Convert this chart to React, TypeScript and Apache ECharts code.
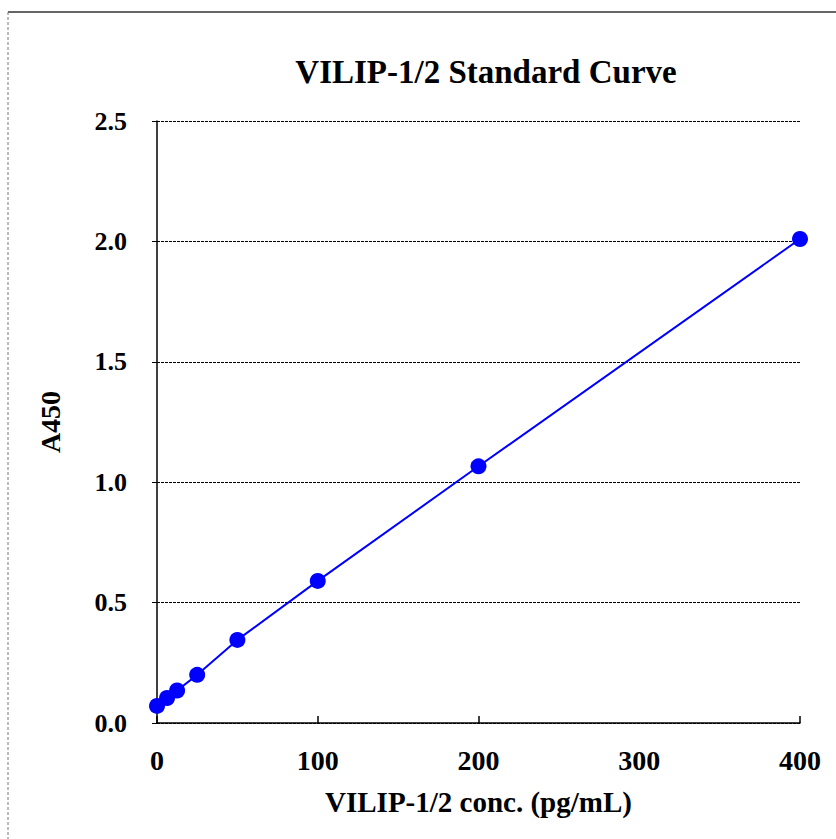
import React, { useEffect, useRef } from "react";
import * as echarts from "echarts";

const concentrations = [0, 6.25, 12.5, 25, 50, 100, 200, 400];
const absorbance = [0.071, 0.104, 0.135, 0.2, 0.345, 0.59, 1.066, 2.01];
const xTicks = [0, 100, 200, 400];
const xLabels = [0, 100, 200, 300, 400];

const FONT = "'Liberation Serif', 'Times New Roman', serif";

export default function App() {
  const ref = useRef<HTMLDivElement>(null);
  useEffect(() => {
    if (!ref.current) return;
    const chart = echarts.init(ref.current, null, { renderer: "svg" });
    chart.setOption({
      animation: false,
      backgroundColor: "#ffffff",
      title: {
        text: "VILIP-1/2 Standard Curve",
        left: 481,
        top: 50,
        textAlign: "center",
        textStyle: { fontFamily: FONT, fontWeight: "bold", fontSize: 33, color: "#000" },
      },
      grid: { left: 157, right: 36, top: 121, bottom: 116 },
      xAxis: {
        type: "value",
        min: 0,
        max: 400,
        interval: 100,
        name: "VILIP-1/2 conc. (pg/mL)",
        nameLocation: "middle",
        nameGap: 64,
        nameTextStyle: { fontFamily: FONT, fontWeight: "bold", fontSize: 29, color: "#000" },
        axisLine: { show: true, lineStyle: { color: "#000", width: 1.5 } },
        axisTick: { show: true, inside: true, length: 7, customValues: xTicks, lineStyle: { color: "#000", width: 1.5 } },
        axisLabel: {
          customValues: xLabels,
          margin: 23,
          fontFamily: FONT,
          fontWeight: "bold",
          fontSize: 28,
          color: "#000",
        },
        splitLine: { show: false },
      },
      yAxis: {
        type: "value",
        min: 0,
        max: 2.5,
        interval: 0.5,
        name: "A450",
        nameLocation: "middle",
        nameGap: 93,
        nameRotate: 90,
        nameTextStyle: { fontFamily: FONT, fontWeight: "bold", fontSize: 28, color: "#000" },
        axisLine: { show: true, lineStyle: { color: "#000", width: 1.5 } },
        axisTick: { show: true, inside: false, length: 5, lineStyle: { color: "#000", width: 1 } },
        axisLabel: {
          margin: 30,
          fontFamily: FONT,
          fontWeight: "bold",
          fontSize: 26,
          color: "#000",
          formatter: (v: number) => v.toFixed(1),
        },
        splitLine: { show: true, lineStyle: { color: "#000", width: 1, type: [3, 1] } },
      },
      series: [
        {
          type: "line",
          data: concentrations.map((c, i) => [c, absorbance[i]]),
          symbol: "circle",
          symbolSize: 16,
          showSymbol: true,
          itemStyle: { color: "#0000ff" },
          lineStyle: { color: "#0000ff", width: 2 },
          z: 5,
          clip: false,
        },
      ],
      graphic: [
        { type: "line", shape: { x1: 8, y1: 12, x2: 836, y2: 12 }, style: { stroke: "#333", lineWidth: 1.5 }, silent: true },
        { type: "line", shape: { x1: 8, y1: 12, x2: 8, y2: 839 }, style: { stroke: "#777", lineWidth: 1, lineDash: [3, 2] }, silent: true },
      ],
    });
    return () => chart.dispose();
  }, []);
  return <div ref={ref} style={{ position: "absolute", left: 0, top: 0, width: 836, height: 839 }} />;
}
